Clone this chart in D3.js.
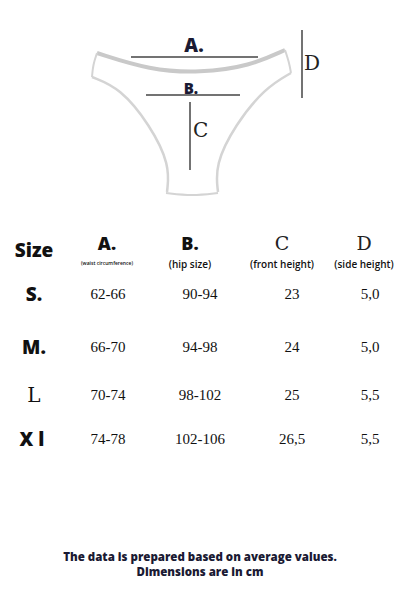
<!DOCTYPE html>
<html><head><meta charset="utf-8">
<script src="https://cdn.jsdelivr.net/npm/d3@7"></script>
<style>body{margin:0;background:#fff}</style></head>
<body><script>
const sizes=["S.","M.","L","X l"];
const waist=["62-66","66-70","70-74","74-78"];
const hip=["90-94","94-98","98-102","102-106"];
const front=["23","24","25","26,5"];
const side=["5,0","5,0","5,5","5,5"];
const headers=["Size","A.","B.","C","D"];
const subHeaders=["","(waist circumference)","(hip size)","(front height)","(side height)"];

const W=401,H=601;
const svg=d3.select("body").append("svg").attr("width",W).attr("height",H);

const g=svg.append("g");
const line=d3.line().curve(d3.curveBasis);
const gray="#d4d4d4";
function p(pts,w,c){g.append("path").attr("d",line(pts)).attr("fill","none").attr("stroke",c||gray).attr("stroke-width",w);}
p([[97,53],[150,70],[200,73],[250,66],[285,50]],4,"#c9c9c9");
p([[97,53],[93,65],[92,77]],2);
p([[285,50],[289,62],[291,73]],2);
p([[92,77],[120,88],[150,125],[170,165],[167,192]],2.5);
p([[291,73],[265,88],[235,125],[215,165],[218,192]],2.5);
p([[166,193],[192,196],[218,193]],2);
const dark="#444";
[[131,57,258,57],[146,95,240,95],[190,102,190,170],[302,30,302,98]].forEach(d=>{
 g.append("line").attr("x1",d[0]).attr("y1",d[1]).attr("x2",d[2]).attr("y2",d[3]).attr("stroke",dark).attr("stroke-width",1.5);
});
function t(x,y,s,fam,wt,size,anchor){return svg.append("text").attr("x",x).attr("y",y).attr("text-anchor",anchor||"middle").attr("font-family",fam).attr("font-weight",wt).attr("font-size",size).attr("fill","#111").text(s);}
t(194,52,"A.","Open Sans",800,19).attr("fill","#1a1a33");
t(191,94,"B.","Open Sans",800,15).attr("fill","#1a1a33");
t(193,137,"C","DejaVu Serif",400,20,"start").attr("fill","#222");
t(304,70,"D","DejaVu Serif",400,20,"start").attr("fill","#222");

const hx=d3.scaleOrdinal().domain(d3.range(5)).range([34,107,190,282,364]);
const bx=d3.scaleOrdinal().domain(d3.range(4)).range([108,200,292,370]);
headers.forEach((h,i)=>{
 if(i===0) t(hx(i),257,h,"Open Sans",800,19);
 else if(i<3) t(hx(i),250,h,"Open Sans",800,18);
 else t(hx(i),250,h,"DejaVu Serif",400,19).attr("fill","#222");
 if(i>0) t(hx(i),i===1?265:268,subHeaders[i],"Open Sans",600,i===1?5:10);
});
const cols=[waist,hip,front,side];
const rowsY=[299,352,400,444];
sizes.forEach((s,r)=>{
 const yy=rowsY[r];
 if(r===2) t(hx(0),yy+2,s,"DejaVu Serif",400,20);
 else t(hx(0)-(r===3?2:0),yy+2,s,"Open Sans",800,19);
 cols.forEach((c,i)=>t(bx(i),yy,c[r],"Liberation Serif",400,15));
});
t(200,561,"The data is prepared based on average values.","Open Sans",800,11.5).attr("fill","#1a1a33");
t(200,576,"Dimensions are in cm","Open Sans",800,11.5).attr("fill","#1a1a33");
</script></body></html>
